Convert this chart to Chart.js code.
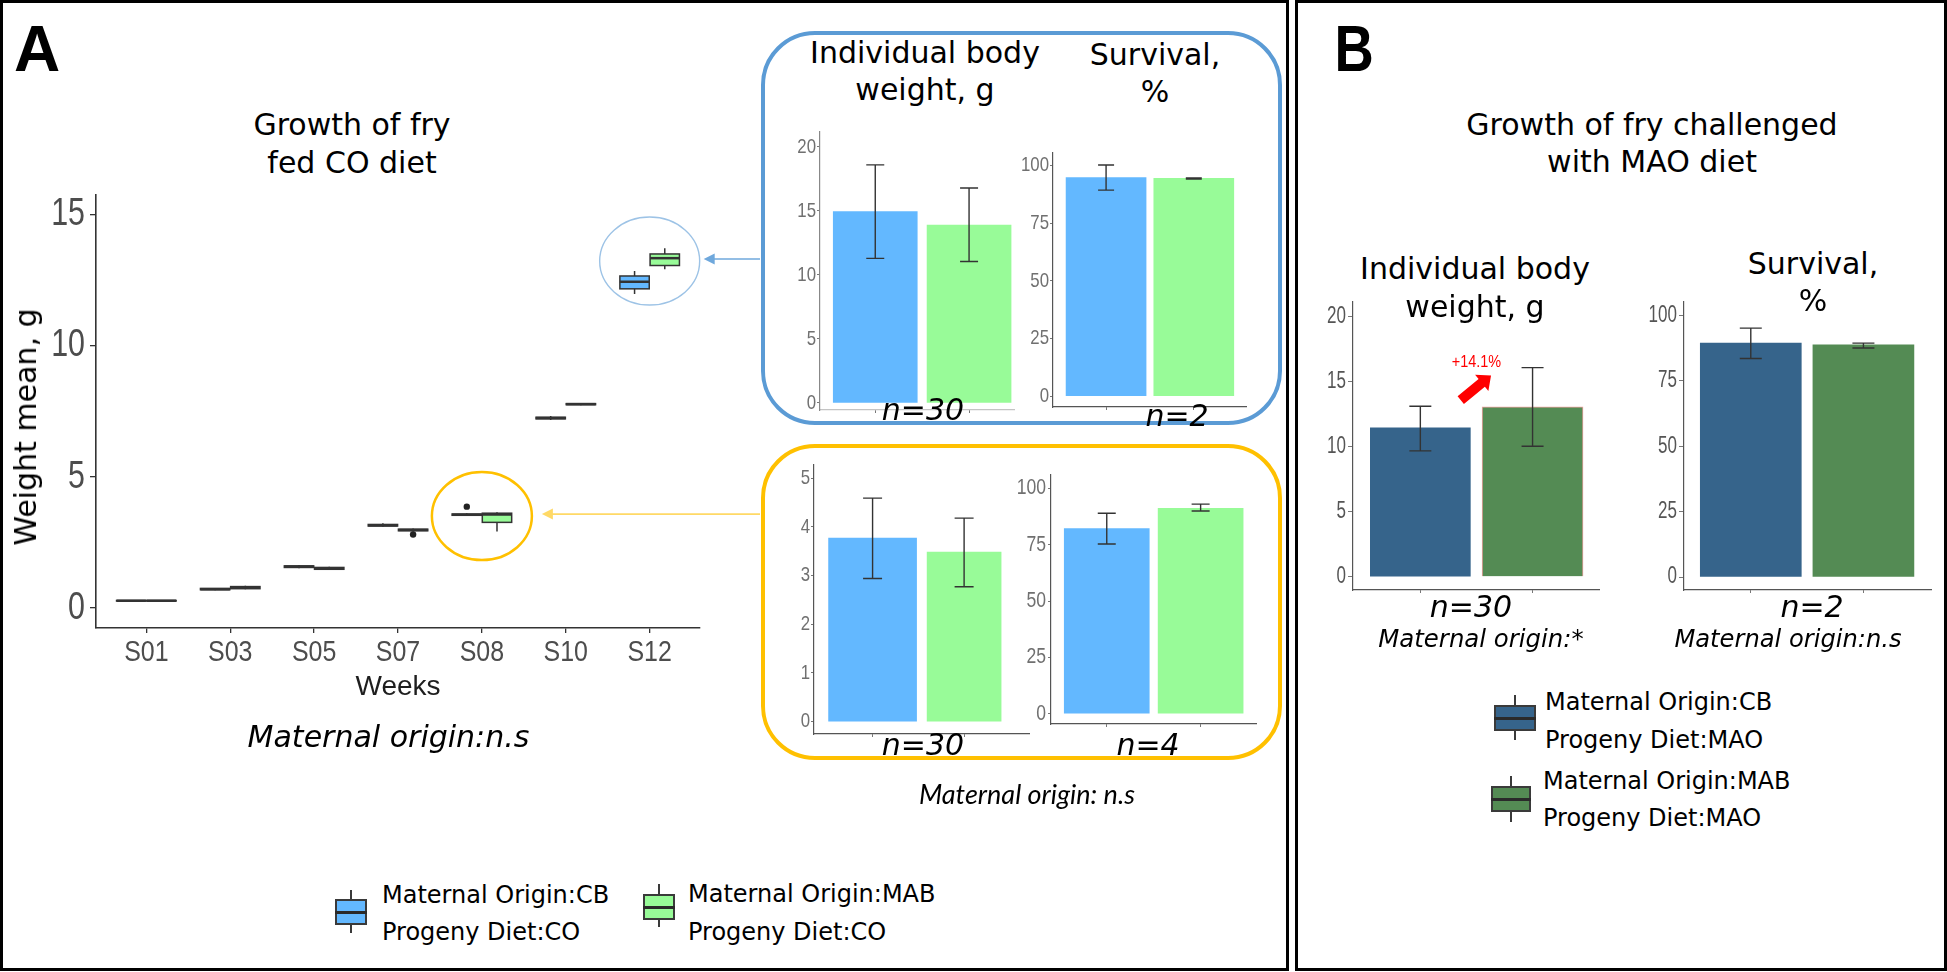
<!DOCTYPE html>
<html>
<head>
<meta charset="utf-8">
<script src="https://cdn.jsdelivr.net/npm/chart.js@4.4.1/dist/chart.umd.min.js"></script>
<style>
  body { margin: 0; background: #fff; }
  #page { position: relative; width: 1947px; height: 972px; overflow: hidden; background: #fff; }
  .lbl { position: absolute; white-space: nowrap; line-height: 1; color: #000; }
  .frame { position: absolute; box-sizing: border-box; border: 3px solid #000; }
  .rbox { position: absolute; box-sizing: border-box; border-radius: 54px; }
  .key { position: absolute; box-sizing: border-box; }
  canvas { position: absolute; }
</style>
</head>
<body>
<div id="page">
  <div class="frame" style="left:0;top:0;width:1289px;height:971px"></div>
  <div class="frame" style="left:1295px;top:0;width:652px;height:971px"></div>
  <div class="rbox" style="left:761px;top:31px;width:521px;height:394px;border:4px solid #5b9bd5"></div>
  <div class="rbox" style="left:761px;top:444px;width:521px;height:316px;border:4px solid #ffc000"></div>
</div>
<script>
// ---- panel A, growth of fry fed CO diet (boxplot: min, q1, median, q3, max) ----
const weeks = ['S01', 'S03', 'S05', 'S07', 'S08', 'S10', 'S12'];
const cbBoxes = [
  [0.26, 0.27, 0.28, 0.29, 0.30],
  [0.68, 0.70, 0.72, 0.75, 0.77],
  [1.52, 1.55, 1.58, 1.61, 1.64],
  [3.10, 3.13, 3.16, 3.19, 3.24],
  [3.52, 3.54, 3.56, 3.59, 3.62],
  [7.18, 7.22, 7.25, 7.28, 7.33],
  [11.98, 12.18, 12.45, 12.67, 12.86]
];
const mabBoxes = [
  [0.26, 0.27, 0.28, 0.29, 0.30],
  [0.72, 0.74, 0.78, 0.82, 0.85],
  [1.45, 1.48, 1.51, 1.55, 1.58],
  [2.92, 2.95, 2.98, 3.01, 3.04],
  [2.92, 3.27, 3.57, 3.62, 3.66],
  [7.74, 7.76, 7.78, 7.80, 7.82],
  [12.93, 13.07, 13.35, 13.51, 13.73]
];
const cbOutliers = [[4, 3.87]];   // [week index, value]
const mabOutliers = [[3, 2.81]];
const growthTicks = [0, 5, 10, 15];
const ringWeeks = [6, 4];          // S12 (blue box), S08 (yellow box)
const ringValues = [13.24, 3.51];

// ---- zoomed bars ----
const s12Weight = [14.95, 13.9];
const s12WeightLow = [11.3, 11.05];
const s12WeightHigh = [18.6, 16.8];
const s12Survival = [94.8, 94.5];
const s12SurvivalLow = [89.4, 94.2];
const s12SurvivalHigh = [100.3, 94.7];

const s08Weight = [3.77, 3.48];
const s08WeightLow = [2.94, 2.77];
const s08WeightHigh = [4.59, 4.18];
const s08Survival = [82.1, 91.1];
const s08SurvivalLow = [75.3, 89.9];
const s08SurvivalHigh = [88.9, 93.0];

// ---- panel B, challenged with MAO diet ----
const maoWeight = [11.46, 13.08];
const maoWeightLow = [9.69, 10.05];
const maoWeightHigh = [13.13, 16.1];
const maoSurvival = [89.4, 88.7];
const maoSurvivalLow = [83.5, 87.5];
const maoSurvivalHigh = [95.1, 89.4];

const weightTicks = [0, 5, 10, 15, 20];
const smallWeightTicks = [0, 1, 2, 3, 4, 5];
const survivalTicks = [0, 25, 50, 75, 100];

// ---- styles ----
const CB_CO = '#63B8FF', MAB_CO = '#98FB98';
const CB_MAO = '#36648B', MAB_MAO = '#548B54';
const SANS = "'Liberation Sans', Arial, sans-serif";
const FONTS = {
  dejavu: "'DejaVu Sans', sans-serif",
  lib: SANS,
  lato: "Lato, 'Open Sans', sans-serif"
};
const CAP = {dejavu: 0.4815, lib: 0.4885, lato: 0.529};
const page = document.getElementById('page');
Chart.defaults.font.family = SANS;
Chart.defaults.animation = false;

function label(text, x, cy, size, o = {}) {
  const fam = o.family || 'dejavu';
  const d = document.createElement('div');
  d.className = 'lbl';
  d.textContent = text;
  d.style.fontFamily = FONTS[fam];
  d.style.fontSize = size + 'px';
  d.style.left = x + 'px';
  d.style.top = (cy - CAP[fam] * size) + 'px';
  if (o.italic) d.style.fontStyle = 'italic';
  if (o.bold) d.style.fontWeight = 'bold';
  if (o.color) d.style.color = o.color;
  let tf = o.left ? '' : 'translateX(-50%)';
  if (o.sx) tf += ' scaleX(' + o.sx + ')';
  if (tf) d.style.transform = tf;
  page.appendChild(d);
  return d;
}

function addCanvas(left, top, width, height) {
  const c = document.createElement('canvas');
  c.width = width; c.height = height;
  c.style.left = left + 'px'; c.style.top = top + 'px';
  c.style.width = width + 'px'; c.style.height = height + 'px';
  page.appendChild(c);
  return c;
}

function keyIcon(left, top, w, h, wTop, wBot, fill) {
  const mid = left + w / 2;
  const wh = document.createElement('div');
  wh.className = 'key';
  Object.assign(wh.style, {left: (mid - 1) + 'px', top: wTop + 'px', width: '2px', height: (wBot - wTop) + 'px', background: '#3a3a3a'});
  page.appendChild(wh);
  const b = document.createElement('div');
  b.className = 'key';
  Object.assign(b.style, {left: left + 'px', top: top + 'px', width: w + 'px', height: h + 'px', background: fill, border: '2px solid #3a3a3a'});
  page.appendChild(b);
  const m = document.createElement('div');
  m.className = 'key';
  Object.assign(m.style, {left: left + 'px', top: (top + h / 2 - 1.5) + 'px', width: w + 'px', height: '3px', background: '#2a2a2a'});
  page.appendChild(m);
}

// tick labels in the figure use a condensed face: draw them squeezed at the scale's tick positions
const narrowTicks = {
  id: 'narrowTicks',
  afterDraw(chart, args, o) {
    const {ctx} = chart;
    ctx.save();
    ['x', 'y'].forEach(axis => {
      const c = o[axis];
      if (!c) return;
      const s = chart.scales[axis];
      const tl = s.options.grid.tickLength;
      ctx.fillStyle = c.color;
      ctx.font = c.size + 'px ' + SANS;
      ctx.textBaseline = 'middle';
      ctx.textAlign = axis === 'y' ? 'right' : 'center';
      s.ticks.forEach((t, i) => {
        const text = c.labels ? c.labels[t.value] : String(t.value);
        const px = axis === 'y' ? s.right - tl - c.pad : s.getPixelForTick(i);
        const py = axis === 'y' ? s.getPixelForTick(i) : s.top + tl + c.pad;
        ctx.save();
        ctx.translate(px, py);
        ctx.scale(c.sx, 1);
        ctx.fillText(text, 0, 0);
        ctx.restore();
      });
    });
    ctx.restore();
  }
};

// ---------- panel A main boxplot ----------
const DODGE = 0.18, HALF_BOX = 0.175;
const growthPlugin = {
  id: 'growth',
  beforeDatasetsDraw(chart) {
    const {ctx, scales: {x, y}} = chart;
    ctx.save();
    [[cbBoxes, CB_CO, -DODGE], [mabBoxes, MAB_CO, DODGE]].forEach(([boxes, fill, off]) => {
      boxes.forEach((b, i) => {
        const xc = x.getPixelForValue(i + off);
        const x0 = x.getPixelForValue(i + off - HALF_BOX);
        const x1 = x.getPixelForValue(i + off + HALF_BOX);
        const [lo, q1, med, q3, hi] = b.map(v => y.getPixelForValue(v));
        ctx.strokeStyle = '#333';
        ctx.lineWidth = 1.5;
        ctx.beginPath();
        ctx.moveTo(xc, lo); ctx.lineTo(xc, q1);
        ctx.moveTo(xc, q3); ctx.lineTo(xc, hi);
        ctx.stroke();
        ctx.fillStyle = fill;
        ctx.fillRect(x0, q3, x1 - x0, q1 - q3);
        ctx.strokeRect(x0, q3, x1 - x0, q1 - q3);
        ctx.lineWidth = 2.5;
        ctx.beginPath();
        ctx.moveTo(x0, med); ctx.lineTo(x1, med);
        ctx.stroke();
      });
    });
    ctx.restore();
  },
  afterDraw(chart) {
    const {ctx, scales: {x, y}} = chart;
    const ringStyle = [
      {color: '#9dc3e6', width: 1.4, arrow: '#6fa8dc', gap: 4},
      {color: '#ffc000', width: 2.5, arrow: '#ffd966', gap: 10}
    ];
    ctx.save();
    ringWeeks.forEach((w, i) => {
      const s = ringStyle[i];
      const cx = x.getPixelForValue(w), cy = y.getPixelForValue(ringValues[i]);
      ctx.strokeStyle = s.color;
      ctx.lineWidth = s.width;
      ctx.beginPath();
      ctx.ellipse(cx, cy, 50, 44, 0, 0, Math.PI * 2);
      ctx.stroke();
      const tip = cx + 50 + s.gap, ay = cy - 2;
      ctx.strokeStyle = s.arrow;
      ctx.lineWidth = 1.6;
      ctx.beginPath();
      ctx.moveTo(760, ay); ctx.lineTo(tip + 8, ay);
      ctx.stroke();
      ctx.fillStyle = s.arrow;
      ctx.beginPath();
      ctx.moveTo(tip, ay); ctx.lineTo(tip + 11, ay - 5.5); ctx.lineTo(tip + 11, ay + 5.5);
      ctx.closePath();
      ctx.fill();
    });
    ctx.restore();
  }
};

const mainTop = 180;
new Chart(addCanvas(0, mainTop, 770, 540), {
  type: 'scatter',
  data: {
    datasets: [
      {data: cbOutliers.map(([w, v]) => ({x: w - DODGE, y: v})), pointRadius: 3.2, backgroundColor: '#222', borderWidth: 0},
      {data: mabOutliers.map(([w, v]) => ({x: w + DODGE, y: v})), pointRadius: 3.2, backgroundColor: '#222', borderWidth: 0}
    ]
  },
  options: {
    responsive: false,
    layout: {padding: {left: 0, top: 195 - mainTop, right: 70, bottom: 0}},
    plugins: {
      legend: {display: false}, tooltip: {enabled: false},
      narrowTicks: {
        x: {size: 29, sx: 0.86, pad: 19.5, color: '#4d4d4d', labels: weeks},
        y: {size: 38, sx: 0.8, pad: 5, color: '#4d4d4d'}
      }
    },
    scales: {
      x: {
        type: 'linear', min: -0.6, max: 6.6,
        afterBuildTicks: s => { s.ticks = weeks.map((_, i) => ({value: i})); },
        afterFit: s => { s.height = 92; s.paddingLeft = 0; s.paddingRight = 0; },
        ticks: {display: false},
        grid: {drawOnChartArea: false, tickLength: 5, color: '#333', lineWidth: 1.3},
        border: {display: true, color: '#333', width: 1.6},
        title: {display: true, text: 'Weeks', color: '#1e1e1e', font: {size: 28}, padding: {top: 0, bottom: 16}}
      },
      y: {
        min: -0.76, max: 15.76,
        afterBuildTicks: s => { s.ticks = growthTicks.map(v => ({value: v})); },
        afterFit: s => { s.width = 96; s.paddingTop = 0; s.paddingBottom = 0; },
        ticks: {display: false},
        grid: {drawOnChartArea: false, tickLength: 6, color: '#333', lineWidth: 1.3},
        border: {display: true, color: '#333', width: 1.6}
      }
    }
  },
  plugins: [growthPlugin, narrowTicks]
});

// ---------- bar charts ----------
const errorBars = {
  id: 'errorBars',
  afterDatasetsDraw(chart, args, opts) {
    const {ctx, scales: {x, y}} = chart;
    ctx.save();
    ctx.strokeStyle = '#333';
    ctx.lineWidth = 1.4;
    opts.lows.forEach((lo, i) => {
      const xc = x.getPixelForValue(i);
      const p0 = y.getPixelForValue(lo), p1 = y.getPixelForValue(opts.highs[i]);
      ctx.beginPath();
      ctx.moveTo(xc, p0); ctx.lineTo(xc, p1);
      ctx.moveTo(xc - opts.cap, p0); ctx.lineTo(xc + opts.cap, p0);
      ctx.moveTo(xc - opts.cap, p1); ctx.lineTo(xc + opts.cap, p1);
      ctx.stroke();
    });
    ctx.restore();
  }
};

const gainArrow = {from: [0.36, 13.6], to: [0.63, 15.5], text: [0.5, 16.54]};
const gainPlugin = {
  id: 'gain',
  afterDatasetsDraw(chart, args, opts) {
    if (!opts.show) return;
    const {ctx, scales: {x, y}} = chart;
    const p0 = [x.getPixelForValue(gainArrow.from[0]), y.getPixelForValue(gainArrow.from[1])];
    const p1 = [x.getPixelForValue(gainArrow.to[0]), y.getPixelForValue(gainArrow.to[1])];
    const len = Math.hypot(p1[0] - p0[0], p1[1] - p0[1]);
    const d = [(p1[0] - p0[0]) / len, (p1[1] - p0[1]) / len], n = [-d[1], d[0]];
    const hl = 12, sw = 5, hw = 10.5;
    const b = [p1[0] - d[0] * hl, p1[1] - d[1] * hl];
    const pt = (base, k) => [base[0] + n[0] * k, base[1] + n[1] * k];
    const poly = [pt(p0, sw), pt(b, sw), pt(b, hw), p1, pt(b, -hw), pt(b, -sw), pt(p0, -sw)];
    ctx.save();
    ctx.fillStyle = '#ff0000';
    ctx.beginPath();
    poly.forEach((p, i) => i ? ctx.lineTo(p[0], p[1]) : ctx.moveTo(p[0], p[1]));
    ctx.closePath();
    ctx.fill();
    const pct = (maoWeight[1] / maoWeight[0] - 1) * 100;
    ctx.font = '17px ' + SANS;
    ctx.textAlign = 'center';
    ctx.textBaseline = 'middle';
    ctx.translate(x.getPixelForValue(gainArrow.text[0]), y.getPixelForValue(gainArrow.text[1]));
    ctx.scale(0.85, 1);
    ctx.fillText('+' + pct.toFixed(1) + '%', 0, 0);
    ctx.restore();
  }
};

function barChart(p) {
  const yW = 40, xH = 8, padR = 4, padT = 3;
  const canvas = addCanvas(p.L - yW, p.T - padT, yW + (p.R - p.L) + padR, padT + (p.B - p.T) + xH);
  new Chart(canvas, {
    type: 'bar',
    data: {
      labels: ['CB', 'MAB'],
      datasets: [0, 1].map(i => ({
        data: [{x: i, y: p.means[i]}],
        backgroundColor: p.fills[i],
        borderColor: (p.outline && p.outline[i]) || 'transparent',
        borderWidth: (p.outline && p.outline[i]) ? 1 : 0,
        barThickness: p.widths[i],
        grouped: false
      }))
    },
    options: {
      responsive: false,
      layout: {padding: {left: 0, top: padT, right: padR, bottom: 0}},
      plugins: {
        legend: {display: false}, tooltip: {enabled: false},
        errorBars: {lows: p.lows, highs: p.highs, cap: p.cap},
        narrowTicks: {y: {size: p.font, sx: p.sx, pad: p.tickPad, color: p.tickColor}},
        gain: {show: !!p.gain}
      },
      scales: {
        x: {
          type: 'linear', min: p.xMin, max: p.xMax, offset: false,
          afterBuildTicks: s => { s.ticks = [{value: 0}, {value: 1}]; },
          afterFit: s => { s.height = xH; s.paddingLeft = 0; s.paddingRight = 0; },
          ticks: {display: false},
          grid: {offset: false, drawOnChartArea: false, tickLength: 3, color: '#777'},
          border: {display: true, color: p.xAxisColor || '#555', width: 1.2}
        },
        y: {
          min: p.yMin, max: p.yMax,
          afterBuildTicks: s => { s.ticks = p.ticks.map(v => ({value: v})); },
          afterFit: s => { s.width = yW; s.paddingTop = 0; s.paddingBottom = 0; },
          ticks: {display: false},
          grid: {drawOnChartArea: false, tickLength: p.tickLen, color: '#777'},
          border: {display: true, color: p.yAxisColor || '#555', width: 1.2}
        }
      }
    },
    plugins: [errorBars, gainPlugin, narrowTicks]
  });
}

const aTicks = {font: 21, sx: 0.8, tickPad: 1, tickLen: 3, tickColor: '#707070'};
const bTicks = {font: 23, sx: 0.74, tickPad: 2, tickLen: 5, tickColor: '#555'};

barChart(Object.assign({L: 820, R: 1014, T: 132, B: 410, yMin: -0.55, yMax: 21.17, xMin: -0.589, xMax: 1.479,
  ticks: weightTicks, means: s12Weight, lows: s12WeightLow, highs: s12WeightHigh,
  fills: [CB_CO, MAB_CO], widths: [84, 84], cap: 9, xAxisColor: '#c4c4c4', yAxisColor: '#888'}, aTicks));
barChart(Object.assign({L: 1053, R: 1246, T: 153, B: 407, yMin: -4.65, yMax: 105.5, xMin: -0.605, xMax: 1.595,
  ticks: survivalTicks, means: s12Survival, lows: s12SurvivalLow, highs: s12SurvivalHigh,
  fills: [CB_CO, MAB_CO], widths: [80, 80], cap: 8}, aTicks));
barChart(Object.assign({L: 814, R: 1029, T: 465, B: 734, yMin: -0.253, yMax: 5.27, xMin: -0.64, xMax: 1.709,
  ticks: smallWeightTicks, means: s08Weight, lows: s08WeightLow, highs: s08WeightHigh,
  fills: [CB_CO, MAB_CO], widths: [88, 74], cap: 9.5}, aTicks));
barChart(Object.assign({L: 1051, R: 1256, T: 475, B: 724, yMin: -4.56, yMax: 105.9, xMin: -0.594, xMax: 1.59,
  ticks: survivalTicks, means: s08Survival, lows: s08SurvivalLow, highs: s08SurvivalHigh,
  fills: [CB_CO, MAB_CO], widths: [85, 85], cap: 9}, aTicks, {font: 22, tickPad: 2}));
barChart(Object.assign({L: 1353, R: 1599, T: 302, B: 590, yMin: -1.02, yMax: 21.15, xMin: -0.6, xMax: 1.592,
  ticks: weightTicks, means: maoWeight, lows: maoWeightLow, highs: maoWeightHigh,
  fills: [CB_MAO, MAB_MAO], outline: [null, '#f2a0a0'], widths: [100, 101], cap: 11, gain: true}, bTicks));
barChart(Object.assign({L: 1684, R: 1931, T: 302, B: 590, yMin: -4.96, yMax: 105.1, xMin: -0.593, xMax: 1.6,
  ticks: survivalTicks, means: maoSurvival, lows: maoSurvivalLow, highs: maoSurvivalHigh,
  fills: [CB_MAO, MAB_MAO], widths: [101, 101], cap: 11}, bTicks));

// ---------- text ----------
label('A', 14, 48, 64, {family: 'lib', bold: true, left: true});
label('B', 1331, 48, 64, {family: 'lib', bold: true, left: true, sx: 0.85});

label('Growth of fry', 352, 124, 30);
label('fed CO diet', 352, 162, 30);
const yTitle = label('Weight mean, g', 26, 427, 30);
yTitle.style.top = (427 - 15) + 'px';
yTitle.style.transform = 'translate(-50%, 0) rotate(-90deg)';
label('Maternal origin:n.s', 388.5, 736, 30, {italic: true});

label('Individual body', 925, 52.5, 30);
label('weight, g', 925, 89, 30);
label('Survival,', 1155, 54, 30);
label('%', 1155, 91, 30);
label('n=30', 923, 409, 30, {italic: true});
label('n=2', 1177, 415, 30, {italic: true});
label('n=30', 923, 744, 30, {italic: true});
label('n=4', 1148, 744, 30, {italic: true});
label('Maternal origin: n.s', 1027, 794, 27, {family: 'lato', italic: true});

keyIcon(335, 899, 32, 26, 890, 933, CB_CO);
label('Maternal Origin:CB', 382, 895, 24, {left: true});
label('Progeny Diet:CO', 382, 932, 24, {left: true});
keyIcon(643, 894, 32, 26, 884, 927, MAB_CO);
label('Maternal Origin:MAB', 688, 894, 24, {left: true});
label('Progeny Diet:CO', 688, 932, 24, {left: true});

label('Growth of fry challenged', 1652, 124, 30);
label('with MAO diet', 1652, 161, 30);
label('Individual body', 1475, 268, 30);
label('weight, g', 1475, 306, 30);
label('Survival,', 1813, 263, 30);
label('%', 1813, 300, 30);
label('n=30', 1471, 606, 30, {italic: true});
label('Maternal origin:*', 1481, 639, 24.4, {italic: true});
label('n=2', 1812, 606, 30, {italic: true});
label('Maternal origin:n.s', 1788, 639, 24.2, {italic: true});

keyIcon(1494, 705, 42, 26, 695, 740, CB_MAO);
label('Maternal Origin:CB', 1545, 702, 24, {left: true});
label('Progeny Diet:MAO', 1545, 739.5, 24, {left: true});
keyIcon(1491, 786, 40, 26, 776, 822, MAB_MAO);
label('Maternal Origin:MAB', 1543, 781, 24, {left: true});
label('Progeny Diet:MAO', 1543, 818, 24, {left: true});
</script>
</body>
</html>
